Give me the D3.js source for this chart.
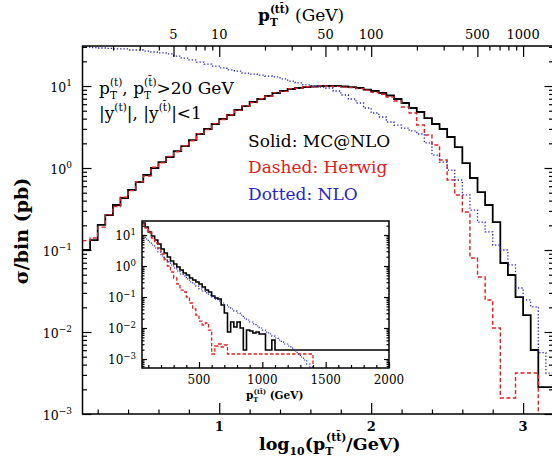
<!DOCTYPE html>
<html>
<head>
<meta charset="utf-8">
<script src="https://cdn.jsdelivr.net/npm/d3@7"></script>
<style>
body { margin: 0; background: #fff; }
text { font-family: "DejaVu Serif", serif; }
</style>
</head>
<body>
<div id="chart"></div>
<script>
// svg parameters
var svgWidth = 552;
var svgHeight = 457;

// main plot: bins of 0.05 in log10(pT/GeV), starting at 0.1
var mainFirstEdge = 0.1, mainBinWidth = 0.05;
var mcnlo = [0.100,0.132,0.202,0.267,0.354,0.431,0.539,0.675,0.822,1.00,
  1.18,1.36,1.61,1.85,2.19,2.60,2.99,3.44,3.96,4.43,
  5.10,5.70,6.38,6.94,7.55,8.22,8.69,9.19,9.46,9.72,
  9.86,10.0,10.0,10.0,9.86,9.72,9.46,9.06,8.69,8.22,
  7.66,6.94,6.21,5.39,4.82,4.07,3.44,2.99,2.39,1.80,
  1.15,0.755,0.509,0.354,0.219,0.0694,0.0496,0.0267,0.0161,0.00603,
  0.00213,0.00213];
var herwig = [0.13,0.14,0.19,0.27,0.34,0.44,0.53,0.68,0.80,1.02,
  1.16,1.38,1.58,1.87,2.15,2.62,2.95,3.48,3.90,4.47,
  5.05,5.75,6.30,7.00,7.50,8.30,8.60,9.25,9.40,9.80,
  9.80,10.0,9.95,9.90,9.70,9.55,9.30,8.90,8.40,7.95,
  7.34,6.56,5.55,4.69,3.34,2.53,1.91,1.25,0.714,0.469,
  0.291,0.0798,0.0469,0.0246,0.0112,0.00157,0.00157,0.00316,0.00316,0.00316,
  0,0];
var nlo = [29.9,29.5,29.1,28.7,28.3,28.3,27.5,27.5,26.7,26.0,
  25.3,24.6,23.2,21.9,20.8,19.6,18.5,17.5,16.6,15.7,
  15.2,14.4,14.0,13.6,13.2,12.9,12.2,11.5,10.9,10.3,
  10.0,9.72,9.46,8.69,7.77,6.94,6.21,5.39,4.69,4.19,
  3.64,3.34,3.07,2.83,2.60,2.02,1.44,1.18,0.945,0.714,
  0.469,0.307,0.219,0.166,0.115,0.100,0.066,0.0344,0.0246,0.0203,
  0.0056,0.00316];

// inset: 25 GeV bins in pT starting at 50 GeV
var insetFirstEdge = 50, insetBinWidth = 25;
var insetMcnlo = [24.4,18.1,12.5,9.29,6.90,5.12,3.54,2.63,1.95,1.45,
  1.16,0.929,0.743,0.595,0.512,0.410,0.353,0.305,0.263,0.210,
  0.168,0.145,0.108,0.0929,0.0861,0.0552,0.0305,0.00743,0.0156,0.0108,
  0.0156,0.0100,0.00195,0.00861,0.0080,0.00690,0.00743,0.0064,0.0064,0.00195,
  0.00195,0.0041,0.00195];
var insetMcnloEnd = 2000;   // last bin runs to here
var insetHerwig = [22.6,16.8,11.6,8.00,5.52,3.81,2.44,1.56,1.00,0.640,
  0.410,0.263,0.168,0.145,0.100,0.064,0.0410,0.0263,0.0168,0.0125,
  0.0145,0.0086,0.00145,0.00263,0.00305,0.00244,0.00283,0.00145];
var insetHerwigEnd = 1400;
var insetNlo = [8.62,7.43,5.94,4.76,3.81,2.83,2.10,1.68,1.35,1.08,
  0.862,0.690,0.552,0.476,0.381,0.305,0.263,0.226,0.181,0.156,
  0.135,0.116,0.100,0.0861,0.0743,0.0640,0.0552,0.0476,0.0410,0.0353,
  0.0305,0.0263,0.0210,0.0181,0.0156,0.0135,0.0116,0.0100,0.0086,0.0074,
  0.0064,0.0055,0.00476,0.0041,0.00353,0.00305,0.00263,0.00226,0.00181,0.00145,
  0.00116,0.00093,0.00069,0.00055];

// tick labels
var mainXTicks = [1, 2, 3];
var mainYTicks = [1e-3, 1e-2, 1e-1, 1e0, 1e1];
var mainYExp = ["\u22123", "\u22122", "\u22121", "0", "1"];
var topTicks = [5, 10, 50, 100, 500, 1000];
var insetXTicks = [500, 1000, 1500, 2000];

var red = "#e02020", blue = "#2626c8";

var frame = {left: 82.5, right: 553.5, top: 46, bottom: 414};
var inset = {left: 142, right: 389, top: 221, bottom: 368};

var svg = d3.select("#chart").append("svg")
  .attr("width", svgWidth)
  .attr("height", svgHeight);

var xScale = d3.scaleLinear().domain([0.1, 3.2]).range([frame.left, frame.right]);
var yScale = d3.scaleLog().domain([1e-3, Math.pow(10, 1.488)]).range([frame.bottom, frame.top]);
var ptScale = d3.scaleLog().domain([Math.pow(10, 0.1), Math.pow(10, 3.2)]).range([frame.left, frame.right]);

var ixScale = d3.scaleLinear().domain([50, 2000]).range([inset.left, inset.right]);
var iyScale = d3.scaleLog().domain([Math.pow(10, -3.29), Math.pow(10, 1.452)]).range([inset.bottom, inset.top]);

// step histogram path
function stepPath(first, width, vals, lastHi, xs, ys, yDrop, drop) {
  var pts = [];
  vals.forEach(function(v, i) {
    var x0 = first + width * i;
    var x1 = (i == vals.length - 1 && lastHi != null) ? lastHi : x0 + width;
    var yy = v > 0 ? ys(v) : yDrop;
    pts.push([xs(x0), yy], [xs(x1), yy]);
  });
  if (drop) pts.push([pts[pts.length - 1][0], yDrop]);
  return d3.line()(pts);
}

// text with sub / superscripts
function rich(parent, x, y, size, segs) {
  var t = parent.append("text").attr("x", x).attr("y", y).attr("font-size", size);
  var cur = 0, prev = null;
  segs.forEach(function(s) {
    var mode = s[1] || "n";
    var target = mode == "n" ? 0 : (mode == "sub" ? 0.3 * size : -0.5 * size);
    var sp = t.append("tspan").attr("dy", target - cur).text(s[0]);
    if (mode != "n") sp.attr("font-size", size * 0.62);
    if (s[2]) sp.attr("font-weight", s[2]);
    if (mode == "oversup" && prev) sp.attr("dx", -prev.node().getComputedTextLength());
    cur = target;
    prev = sp;
  });
  return t;
}

function powLabel(parent, xr, yb, exp, size, weight) {
  var t = parent.append("text").attr("x", xr).attr("y", yb)
    .attr("text-anchor", "end").attr("font-size", size);
  if (weight) t.attr("font-weight", weight);
  t.append("tspan").text("10");
  t.append("tspan").attr("dy", -size * 0.45).attr("font-size", size * 0.72).text(exp);
}

function noDomain(g) { g.select(".domain").remove(); g.selectAll("line").attr("stroke-width", 1.2); }

// clip paths
var defs = svg.append("defs");
defs.append("clipPath").attr("id", "clipMain").append("rect")
  .attr("x", frame.left).attr("y", frame.top)
  .attr("width", frame.right - frame.left).attr("height", frame.bottom - frame.top);
defs.append("clipPath").attr("id", "clipInset").append("rect")
  .attr("x", inset.left).attr("y", inset.top)
  .attr("width", inset.right - inset.left).attr("height", inset.bottom - inset.top);

// main curves
var curves = svg.append("g").attr("clip-path", "url(#clipMain)");
curves.append("path")
  .attr("d", stepPath(mainFirstEdge, mainBinWidth, mcnlo, null, xScale, yScale, frame.bottom + 5, true))
  .attr("fill", "none").attr("stroke", "black").attr("stroke-width", 1.8);
curves.append("path")
  .attr("d", stepPath(mainFirstEdge, mainBinWidth, herwig, null, xScale, yScale, frame.bottom + 5, true))
  .attr("fill", "none").attr("stroke", red).attr("stroke-width", 1.4).attr("stroke-dasharray", "4,2.5");
curves.append("path")
  .attr("d", stepPath(mainFirstEdge, mainBinWidth, nlo, null, xScale, yScale, frame.bottom + 5, true))
  .attr("fill", "none").attr("stroke", blue).attr("stroke-width", 1.3).attr("stroke-dasharray", "1.3,2");

// main frame
svg.append("rect")
  .attr("x", frame.left).attr("y", frame.top)
  .attr("width", frame.right - frame.left).attr("height", frame.bottom - frame.top)
  .attr("fill", "none").attr("stroke", "black").attr("stroke-width", 1.5);

// main axes ticks
var yMinor = yScale.ticks().filter(function(d) { return mainYTicks.indexOf(d) < 0; });
svg.append("g").attr("transform", "translate(" + frame.left + ",0)")
  .call(d3.axisRight(yScale).tickValues(mainYTicks).tickSize(9).tickFormat("")).call(noDomain);
svg.append("g").attr("transform", "translate(" + frame.left + ",0)")
  .call(d3.axisRight(yScale).tickValues(yMinor).tickSize(4.5).tickFormat("")).call(noDomain);
svg.append("g").attr("transform", "translate(" + frame.right + ",0)")
  .call(d3.axisLeft(yScale).tickValues(mainYTicks).tickSize(9).tickFormat("")).call(noDomain);
svg.append("g").attr("transform", "translate(" + frame.right + ",0)")
  .call(d3.axisLeft(yScale).tickValues(yMinor).tickSize(4.5).tickFormat("")).call(noDomain);

var xMinor = d3.range(2, 32, 2).map(function(d) { return d / 10; })
  .filter(function(d) { return mainXTicks.indexOf(d) < 0; });
svg.append("g").attr("transform", "translate(0," + frame.bottom + ")")
  .call(d3.axisTop(xScale).tickValues(mainXTicks).tickSize(11).tickFormat("")).call(noDomain);
svg.append("g").attr("transform", "translate(0," + frame.bottom + ")")
  .call(d3.axisTop(xScale).tickValues(xMinor).tickSize(4.5).tickFormat("")).call(noDomain);

var ptMinor = ptScale.ticks().filter(function(d) { return topTicks.indexOf(d) < 0; });
svg.append("g").attr("transform", "translate(0," + frame.top + ")")
  .call(d3.axisBottom(ptScale).tickValues(topTicks).tickSize(11).tickFormat("")).call(noDomain);
svg.append("g").attr("transform", "translate(0," + frame.top + ")")
  .call(d3.axisBottom(ptScale).tickValues(ptMinor).tickSize(4.5).tickFormat("")).call(noDomain);

// main tick labels
mainYTicks.forEach(function(v, i) {
  powLabel(svg, 72, yScale(v) + 6, mainYExp[i], 12.5);
});
svg.selectAll(".xlab").data(mainXTicks).enter().append("text")
  .attr("x", function(d) { return xScale(d); })
  .attr("y", 431)
  .attr("text-anchor", "middle").attr("font-size", 13).attr("font-weight", "bold")
  .text(function(d) { return d; });
svg.selectAll(".toplab").data(topTicks).enter().append("text")
  .attr("x", function(d) { return ptScale(d); })
  .attr("y", 39)
  .attr("text-anchor", "middle").attr("font-size", 13)
  .text(function(d) { return d; });

// axis titles
rich(svg, 258, 21, 17, [["p", "n", "bold"], ["T", "sub", "bold"], ["(tt\u0304)", "oversup", "bold"], [" (GeV)"]]);
rich(svg, 259, 450, 17.5, [["log"], ["10", "sub"], ["(p"], ["T", "sub"], ["(tt\u0304)", "oversup"], ["/GeV)"]])
  .attr("font-weight", "bold");
svg.append("text")
  .attr("transform", "translate(28,231) rotate(-90)")
  .attr("text-anchor", "middle").attr("font-size", 19).attr("font-weight", "bold")
  .text("\u03c3/bin (pb)");

// annotations
rich(svg, 99, 94, 17, [["p"], ["T", "sub"], ["(t)", "oversup"], [", p"], ["T", "sub"], ["(t\u0304)", "oversup"], [">20 GeV"]]);
rich(svg, 99, 119, 17, [["|y"], ["(t)", "sup"], ["|, |y"], ["(t\u0304)", "sup"], ["|<1"]]);
svg.append("text").attr("x", 248).attr("y", 147).attr("font-size", 17).attr("fill", "black").text("Solid: MC@NLO");
svg.append("text").attr("x", 248).attr("y", 173).attr("font-size", 17).attr("fill", red).text("Dashed: Herwig");
svg.append("text").attr("x", 248).attr("y", 200).attr("font-size", 17).attr("fill", blue).text("Dotted: NLO");

// inset
svg.append("rect")
  .attr("x", inset.left).attr("y", inset.top)
  .attr("width", inset.right - inset.left).attr("height", inset.bottom - inset.top)
  .attr("fill", "white");

var icurves = svg.append("g").attr("clip-path", "url(#clipInset)");
icurves.append("path")
  .attr("d", stepPath(insetFirstEdge, insetBinWidth, insetMcnlo, insetMcnloEnd, ixScale, iyScale, inset.bottom + 5, false))
  .attr("fill", "none").attr("stroke", "black").attr("stroke-width", 1.6);
icurves.append("path")
  .attr("d", stepPath(insetFirstEdge, insetBinWidth, insetHerwig, insetHerwigEnd, ixScale, iyScale, inset.bottom + 5, true))
  .attr("fill", "none").attr("stroke", red).attr("stroke-width", 1.3).attr("stroke-dasharray", "3.5,2");
icurves.append("path")
  .attr("d", stepPath(insetFirstEdge, insetBinWidth, insetNlo, null, ixScale, iyScale, inset.bottom + 5, true))
  .attr("fill", "none").attr("stroke", blue).attr("stroke-width", 1.2).attr("stroke-dasharray", "1.2,1.8");

svg.append("rect")
  .attr("x", inset.left).attr("y", inset.top)
  .attr("width", inset.right - inset.left).attr("height", inset.bottom - inset.top)
  .attr("fill", "none").attr("stroke", "black").attr("stroke-width", 1.5);

var iyMinor = iyScale.ticks().filter(function(d) { return mainYTicks.indexOf(d) < 0; });
svg.append("g").attr("transform", "translate(" + inset.left + ",0)")
  .call(d3.axisRight(iyScale).tickValues(mainYTicks).tickSize(5).tickFormat("")).call(noDomain);
svg.append("g").attr("transform", "translate(" + inset.left + ",0)")
  .call(d3.axisRight(iyScale).tickValues(iyMinor).tickSize(2.5).tickFormat("")).call(noDomain);
svg.append("g").attr("transform", "translate(" + inset.right + ",0)")
  .call(d3.axisLeft(iyScale).tickValues(mainYTicks).tickSize(5).tickFormat("")).call(noDomain);
svg.append("g").attr("transform", "translate(" + inset.right + ",0)")
  .call(d3.axisLeft(iyScale).tickValues(iyMinor).tickSize(2.5).tickFormat("")).call(noDomain);

var ixMinor = d3.range(100, 2000, 100).filter(function(d) { return insetXTicks.indexOf(d) < 0; });
svg.append("g").attr("transform", "translate(0," + inset.bottom + ")")
  .call(d3.axisTop(ixScale).tickValues(insetXTicks).tickSize(6).tickFormat("")).call(noDomain);
svg.append("g").attr("transform", "translate(0," + inset.bottom + ")")
  .call(d3.axisTop(ixScale).tickValues(ixMinor).tickSize(3).tickFormat("")).call(noDomain);

mainYTicks.forEach(function(v, i) {
  powLabel(svg, 136, iyScale(v) + 5, mainYExp[i], 12);
});
svg.selectAll(".ixlab").data(insetXTicks).enter().append("text")
  .attr("x", function(d) { return ixScale(d); })
  .attr("y", 384)
  .attr("text-anchor", "middle").attr("font-size", 12)
  .text(function(d) { return d; });
rich(svg, 246, 399, 10.5, [["p"], ["T", "sub"], ["(tt\u0304)", "oversup"], [" (GeV)"]])
  .attr("font-weight", "bold");
</script>
</body>
</html>
